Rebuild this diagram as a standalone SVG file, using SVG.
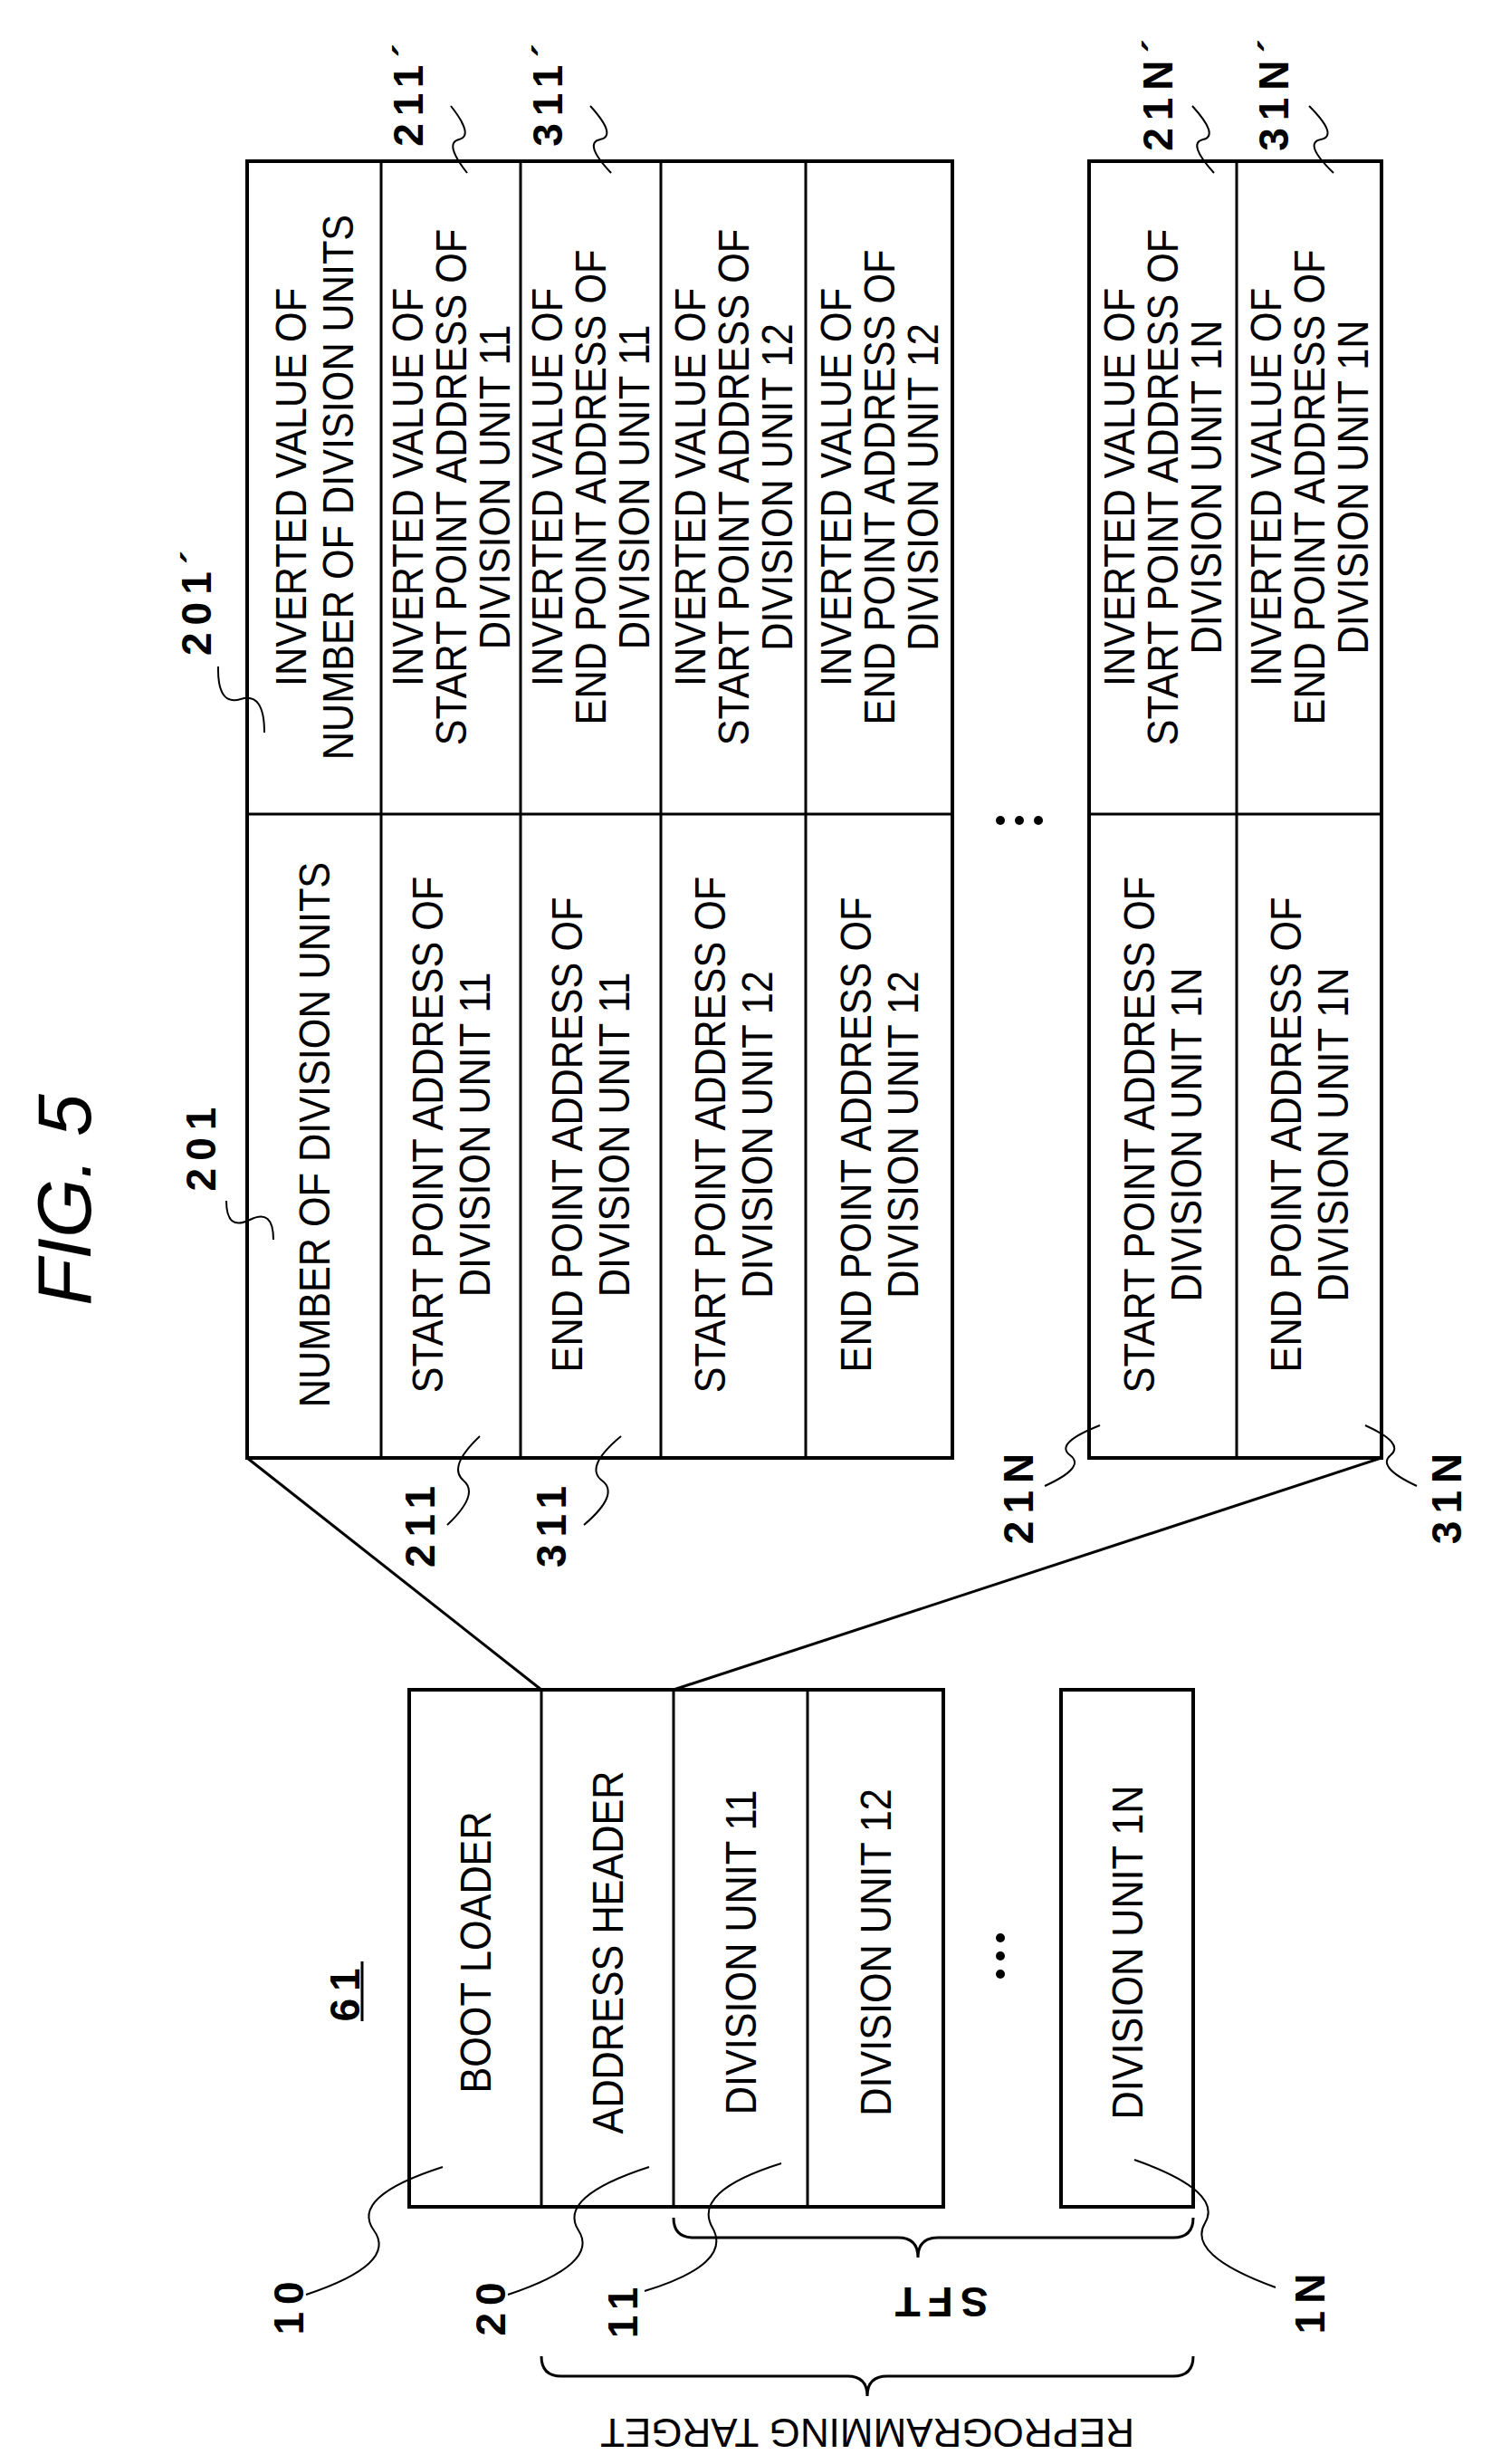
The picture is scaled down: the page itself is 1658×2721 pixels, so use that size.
<svg xmlns="http://www.w3.org/2000/svg" width="1658" height="2721" viewBox="0 0 1658 2721">
<style>
.box{fill:#fff;stroke:#000;stroke-width:4}
.ln{fill:none;stroke:#000;stroke-width:3}
.sq{fill:none;stroke:#000;stroke-width:2}
.t{font-family:"Liberation Sans",Arial,sans-serif;font-size:48px;text-anchor:middle;fill:#000}
.lb{font-family:"Liberation Sans",Arial,sans-serif;font-size:46px;font-weight:bold;text-anchor:middle;letter-spacing:8px;fill:#000}
</style>
<rect width="1658" height="2721" fill="#fff"/>
<text transform="translate(100,1325) rotate(-90)" style="font-family:'Liberation Sans',Arial,sans-serif;font-size:84px;font-style:italic;text-anchor:middle">FIG. 5</text>

<g id="connectors">
<line class="ln" x1="273" y1="1610" x2="598" y2="1866"/>
<line class="ln" x1="1526" y1="1610" x2="744" y2="1866"/>
</g>

<g id="header-table">
<rect class="box" x="273" y="178" width="779" height="1432"/>
<line class="ln" x1="421" y1="178" x2="421" y2="1610"/>
<line class="ln" x1="575" y1="178" x2="575" y2="1610"/>
<line class="ln" x1="730" y1="178" x2="730" y2="1610"/>
<line class="ln" x1="890" y1="178" x2="890" y2="1610"/>
<line class="ln" x1="273" y1="899" x2="1052" y2="899"/>
<rect class="box" x="1203" y="178" width="323" height="1432"/>
<line class="ln" x1="1366" y1="178" x2="1366" y2="1610"/>
<line class="ln" x1="1203" y1="899" x2="1526" y2="899"/>
<circle cx="1105" cy="906" r="5"/><circle cx="1126" cy="906" r="5"/><circle cx="1147" cy="906" r="5"/>

<text class="t" transform="translate(347,1253) rotate(-90) scale(0.9,1)"><tspan x="0" dy="17">NUMBER OF DIVISION UNITS</tspan></text>
<text class="t" transform="translate(498,1253) rotate(-90) scale(0.9,1)"><tspan x="0" dy="-9">START POINT ADDRESS OF</tspan><tspan x="0" dy="52">DIVISION UNIT 11</tspan></text>
<text class="t" transform="translate(652,1253) rotate(-90) scale(0.9,1)"><tspan x="0" dy="-9">END POINT ADDRESS OF</tspan><tspan x="0" dy="52">DIVISION UNIT 11</tspan></text>
<text class="t" transform="translate(810,1253) rotate(-90) scale(0.9,1)"><tspan x="0" dy="-9">START POINT ADDRESS OF</tspan><tspan x="0" dy="52">DIVISION UNIT 12</tspan></text>
<text class="t" transform="translate(971,1253) rotate(-90) scale(0.9,1)"><tspan x="0" dy="-9">END POINT ADDRESS OF</tspan><tspan x="0" dy="52">DIVISION UNIT 12</tspan></text>
<text class="t" transform="translate(1284,1253) rotate(-90) scale(0.9,1)"><tspan x="0" dy="-9">START POINT ADDRESS OF</tspan><tspan x="0" dy="52">DIVISION UNIT 1N</tspan></text>
<text class="t" transform="translate(1446,1253) rotate(-90) scale(0.9,1)"><tspan x="0" dy="-9">END POINT ADDRESS OF</tspan><tspan x="0" dy="52">DIVISION UNIT 1N</tspan></text>

<text class="t" transform="translate(347,538) rotate(-90) scale(0.9,1)"><tspan x="0" dy="-9">INVERTED VALUE OF</tspan><tspan x="0" dy="52">NUMBER OF DIVISION UNITS</tspan></text>
<text class="t" transform="translate(498,538) rotate(-90) scale(0.9,1)"><tspan x="0" dy="-31">INVERTED VALUE OF</tspan><tspan x="0" dy="48">START POINT ADDRESS OF</tspan><tspan x="0" dy="48">DIVISION UNIT 11</tspan></text>
<text class="t" transform="translate(652,538) rotate(-90) scale(0.9,1)"><tspan x="0" dy="-31">INVERTED VALUE OF</tspan><tspan x="0" dy="48">END POINT ADDRESS OF</tspan><tspan x="0" dy="48">DIVISION UNIT 11</tspan></text>
<text class="t" transform="translate(810,538) rotate(-90) scale(0.9,1)"><tspan x="0" dy="-31">INVERTED VALUE OF</tspan><tspan x="0" dy="48">START POINT ADDRESS OF</tspan><tspan x="0" dy="48">DIVISION UNIT 12</tspan></text>
<text class="t" transform="translate(971,538) rotate(-90) scale(0.9,1)"><tspan x="0" dy="-31">INVERTED VALUE OF</tspan><tspan x="0" dy="48">END POINT ADDRESS OF</tspan><tspan x="0" dy="48">DIVISION UNIT 12</tspan></text>
<text class="t" transform="translate(1284,538) rotate(-90) scale(0.9,1)"><tspan x="0" dy="-31">INVERTED VALUE OF</tspan><tspan x="0" dy="48">START POINT ADDRESS OF</tspan><tspan x="0" dy="48">DIVISION UNIT 1N</tspan></text>
<text class="t" transform="translate(1446,538) rotate(-90) scale(0.9,1)"><tspan x="0" dy="-31">INVERTED VALUE OF</tspan><tspan x="0" dy="48">END POINT ADDRESS OF</tspan><tspan x="0" dy="48">DIVISION UNIT 1N</tspan></text>
</g>

<g id="memory-61">
<rect class="box" x="452" y="1866" width="590" height="571"/>
<line class="ln" x1="598" y1="1866" x2="598" y2="2437"/>
<line class="ln" x1="744" y1="1866" x2="744" y2="2437"/>
<line class="ln" x1="892" y1="1866" x2="892" y2="2437"/>
<rect class="box" x="1172" y="1866" width="146" height="571"/>
<circle cx="1105" cy="2140" r="5"/><circle cx="1105" cy="2160" r="5"/><circle cx="1105" cy="2180" r="5"/>
<text class="t" transform="translate(525,2156) rotate(-90) scale(0.9,1)"><tspan x="0" dy="17">BOOT LOADER</tspan></text>
<text class="t" transform="translate(671,2156) rotate(-90) scale(0.9,1)"><tspan x="0" dy="17">ADDRESS HEADER</tspan></text>
<text class="t" transform="translate(818,2156) rotate(-90) scale(0.9,1)"><tspan x="0" dy="17">DIVISION UNIT 11</tspan></text>
<text class="t" transform="translate(967,2156) rotate(-90) scale(0.9,1)"><tspan x="0" dy="17">DIVISION UNIT 12</tspan></text>
<text class="t" transform="translate(1245,2156) rotate(-90) scale(0.9,1)"><tspan x="0" dy="17">DIVISION UNIT 1N</tspan></text>
<text class="lb" transform="translate(382,2199) rotate(-90)" dy="15">61</text>
<line x1="400" y1="2166" x2="400" y2="2232" stroke="#000" stroke-width="3"/>
<path class="ln" d="M744 2449 q0 22 22 22 h226 q22 0 22 22 q0 -22 22 -22 h260 q22 0 22 -22"/>
<text class="lb" transform="translate(1036,2541) rotate(180)" dy="15">SFT</text>
<path class="ln" d="M598 2602 q0 22 22 22 h316 q22 0 22 22 q0 -22 22 -22 h316 q22 0 22 -22"/>
<text transform="translate(958,2686) rotate(180)" style="font-family:'Liberation Sans',Arial,sans-serif;font-size:44px;text-anchor:middle" dy="15">REPROGRAMMING TARGET</text>
</g>

<g id="labels">
<text class="lb" transform="translate(320,2545) rotate(-90)" dy="15">10</text>
<path class="sq" d="M338 2534 Q 440 2500 413 2463 T 489 2393"/>
<text class="lb" transform="translate(543,2546) rotate(-90)" dy="15">20</text>
<path class="sq" d="M561 2534 Q 663 2500 639 2463 T 717 2393"/>
<text class="lb" transform="translate(689,2550) rotate(-90)" dy="15">11</text>
<path class="sq" d="M712 2530 Q 810 2500 787 2460 T 863 2389"/>
<text class="lb" transform="translate(1448,2540) rotate(-90)" dy="15">1N</text>
<path class="sq" d="M1409 2526 Q 1310 2490 1331 2455 T 1253 2385"/>

<text class="lb" transform="translate(465,1682) rotate(-90)" dy="15">211</text>
<path class="sq" d="M494 1684 Q 530 1650 512 1635 T 530 1586"/>
<text class="lb" transform="translate(610,1682) rotate(-90)" dy="15">311</text>
<path class="sq" d="M645 1684 Q 685 1650 665 1635 T 686 1586"/>
<text class="lb" transform="translate(1126,1651) rotate(-90)" dy="15">21N</text>
<path class="sq" d="M1154 1641 Q 1200 1620 1182 1607 T 1215 1574"/>
<text class="lb" transform="translate(1599,1651) rotate(-90)" dy="15">31N</text>
<path class="sq" d="M1565 1641 Q 1520 1620 1536 1607 T 1508 1574"/>

<text class="lb" transform="translate(223,1265) rotate(-90)" dy="15">201</text>
<path class="sq" d="M250 1326 Q 250 1360 276 1347 T 302 1369"/>
<text class="lb" transform="translate(218,662) rotate(-90)" dy="15">201´</text>
<path class="sq" d="M241 736 Q 240 780 266 772 T 292 809"/>

<text class="lb" transform="translate(452,101) rotate(-90)" dy="15">211´</text>
<path class="sq" d="M498 117 Q 524 150 507 154 T 516 191"/>
<text class="lb" transform="translate(606,101) rotate(-90)" dy="15">311´</text>
<path class="sq" d="M652 117 Q 682 150 663 154 T 675 191"/>
<text class="lb" transform="translate(1280,101) rotate(-90)" dy="15">21N´</text>
<path class="sq" d="M1317 117 Q 1347 150 1329 154 T 1341 191"/>
<text class="lb" transform="translate(1408,101) rotate(-90)" dy="15">31N´</text>
<path class="sq" d="M1446 117 Q 1479 150 1459 154 T 1473 191"/>
</g>
</svg>
